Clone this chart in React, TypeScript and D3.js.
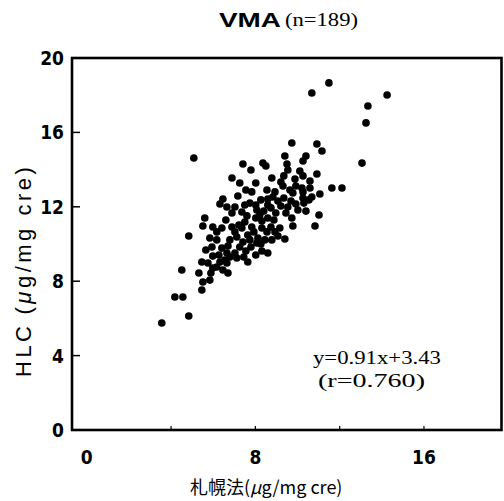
import React, { useEffect, useRef } from "react";
import * as d3 from "d3";

const width = 504;
const height = 501;

// 札幌法 (x) vs HLC (y), µg/mg cre
const sapporo = [
  11.49, 10.68, 14.25, 13.34, 13.25, 9.73, 10.92, 11.16, 9.4, 10.4, 5.08,
  10.26, 13.06, 8.36, 8.5, 7.41, 7.79, 9.5, 9.54, 10.11, 10.92, 10.26, 9.88, 6.89,
  10.59, 9.21, 9.31, 7.26, 8.02, 7.55, 7.83, 8.55, 8.93, 11.63, 12.11, 10.21, 10.26, 11.06,
  6.46, 6.32, 6.65, 7.74, 8.26, 8.59, 8.83, 9.07, 9.35, 9.69, 10.26, 10.3, 10.54, 10.68, 9.21, 9.54, 8.07, 8.4, 8.74, 10.02, 10.4,
  7.36, 5.6, 5.51, 5.98, 6.41, 6.89, 7.5, 7.83, 8.31, 8.59, 8.88, 8.74, 9.16, 9.73, 9.78, 11.02, 10.83, 8.31,
  4.84, 5.84, 6.17, 5.94, 6.41, 6.7, 7.03, 6.79, 5.98, 6.55, 7.12, 7.12, 7.41, 7.26, 7.64, 7.93, 8.55, 8.93, 9.4, 7.55, 7.79, 8.26, 8.31, 8.59,
  5.46, 5.75, 6.65, 6.17, 6.46, 5.32, 6.7, 5.89, 5.51, 5.84, 4.51, 5.46, 4.18, 4.56, 4.84, 3.56,
  // dense core
  7.6, 8.02, 7.03, 7.36, 8.12, 8.45, 7.74, 6.79, 6.65, 6.27, 7.45, 8.02, 8.78, 9.07, 8.21, 8.97, 9.45,
  9.92, 8.59, 8.02, 7.5, 7.03, 7.17, 6.89, 9.64, 9.92, 10.59, 9.78, 9.35, 8.78,
  6.6, 6.17, 5.65, 7.22, 8.07, 7.64, 6.32, 5.98,
];
const hlc = [
  18.66, 18.12, 18.01, 17.42, 16.51, 15.43, 15.38, 15.0, 14.73, 14.73, 14.62,
  14.46, 14.35, 14.35, 14.19, 14.3, 13.98, 14.3, 13.98, 13.92, 13.76, 13.66, 13.49, 13.55,
  13.39, 13.33, 13.12, 13.28, 13.28, 12.9, 12.8, 12.9, 12.8, 13.01, 13.01, 13.01, 12.8, 12.69,
  12.42, 12.15, 11.99, 12.2, 12.37, 12.42, 12.53, 12.31, 12.47, 12.31, 12.47, 12.2, 12.37, 12.53, 12.04, 11.99, 11.83, 11.77, 11.94, 11.83, 11.77,
  11.72, 11.4, 10.97, 10.91, 10.86, 10.91, 11.18, 10.91, 11.24, 11.4, 11.29, 10.91, 10.86, 11.4, 10.97, 11.56, 10.97, 10.86,
  10.43, 10.32, 10.22, 9.84, 9.78, 9.89, 9.52, 9.3, 9.35, 9.14, 9.25, 10.38, 10.11, 9.84, 10.48, 10.65, 10.65, 10.65, 10.27, 9.62, 9.84, 10.0, 9.62, 9.52,
  9.03, 8.98, 8.98, 8.76, 8.6, 8.44, 8.44, 8.44, 7.96, 8.06, 8.6, 7.53, 7.15, 7.15, 6.13, 5.75,
  11.51, 11.4, 10.65, 10.86, 10.32, 10.22, 10.22, 10.22, 9.52, 9.41, 9.3, 9.41, 10.22, 10.43, 11.56, 11.67, 11.67,
  12.15, 12.1, 12.1, 12.1, 11.99, 12.58, 11.67, 12.9, 13.12, 13.01, 12.74, 13.66, 13.55,
  11.29, 10.65, 9.68, 11.02, 10.05, 9.03, 9.03, 8.71,
];

const xTicks = [0, 8, 16];
const yTicks = [0, 4, 8, 12, 16, 20];
const xMinorTicks = [4, 8, 12, 16];

const narrow = "'Liberation Sans Narrow', 'DejaVu Sans Condensed', 'Liberation Sans', sans-serif";
const serif = "'Liberation Serif', 'DejaVu Serif', serif";
const sans = "'Liberation Sans', Arial, sans-serif";

const ScatterChart = () => {
  const ref = useRef<SVGSVGElement>(null);

  useEffect(() => {
    const svg = d3.select(ref.current);
    svg.selectAll("*").remove();

    const x = d3.scaleLinear([-0.7, 19.75], [72, 503]);
    const y = d3.scaleLinear([0, 20], [430, 58]);

    svg.append("rect").attr("width", width).attr("height", height).attr("fill", "#fff");

    // frame
    svg.append("rect")
      .attr("x", x(-0.7))
      .attr("y", y(20))
      .attr("width", x(19.75) - x(-0.7) - 1.5)
      .attr("height", y(0) - y(20))
      .attr("fill", "none")
      .attr("stroke", "#000")
      .attr("stroke-width", 2.6);

    // y ticks (inward)
    svg.append("g")
      .selectAll("line")
      .data(yTicks.slice(1, -1))
      .join("line")
      .attr("x1", x(-0.7))
      .attr("x2", x(-0.7) + 8)
      .attr("y1", d => y(d))
      .attr("y2", d => y(d))
      .attr("stroke", "#000")
      .attr("stroke-width", 1.5);

    svg.append("g")
      .selectAll("line")
      .data(xMinorTicks)
      .join("line")
      .attr("x1", d => x(d))
      .attr("x2", d => x(d))
      .attr("y1", y(0))
      .attr("y2", y(0) - 4)
      .attr("stroke", "#000")
      .attr("stroke-width", 1.2);

    svg.append("g")
      .selectAll("text")
      .data(yTicks)
      .join("text")
      .attr("x", 64)
      .attr("y", d => y(d) + 7)
      .attr("text-anchor", "end")
      .attr("font-family", narrow)
      .attr("font-weight", "bold")
      .attr("font-size", 19)
      .text(d => d);

    svg.append("g")
      .selectAll("text")
      .data(xTicks)
      .join("text")
      .attr("x", d => x(d))
      .attr("y", 464)
      .attr("text-anchor", "middle")
      .attr("font-family", narrow)
      .attr("font-weight", "bold")
      .attr("font-size", 19)
      .text(d => d);

    // points
    svg.append("g")
      .selectAll("circle")
      .data(d3.range(sapporo.length))
      .join("circle")
      .attr("cx", i => x(sapporo[i]))
      .attr("cy", i => y(hlc[i]))
      .attr("r", 3.8)
      .attr("fill", "#000");

    // title
    svg.append("text")
      .attr("x", 219)
      .attr("y", 27)
      .attr("font-family", sans)
      .attr("font-weight", "bold")
      .attr("font-size", 21)
      .attr("textLength", 62)
      .attr("lengthAdjust", "spacingAndGlyphs")
      .text("VMA");
    svg.append("text")
      .attr("x", 285)
      .attr("y", 26)
      .attr("font-family", serif)
      .attr("font-size", 19)
      .attr("textLength", 73)
      .attr("lengthAdjust", "spacingAndGlyphs")
      .text("(n=189)");

    // regression
    svg.append("text")
      .attr("x", 313)
      .attr("y", 364)
      .attr("font-family", serif)
      .attr("font-size", 18)
      .attr("textLength", 128)
      .attr("lengthAdjust", "spacingAndGlyphs")
      .text("y=0.91x+3.43");
    svg.append("text")
      .attr("x", 318)
      .attr("y", 387)
      .attr("font-family", serif)
      .attr("font-size", 18)
      .attr("textLength", 107)
      .attr("lengthAdjust", "spacingAndGlyphs")
      .text("(r=0.760)");

    // x axis title
    const xt = svg.append("text")
      .attr("x", 190)
      .attr("y", 494)
      .attr("font-family", "'Noto Sans CJK JP', 'Noto Sans', sans-serif")
      .attr("font-size", 18);
    xt.append("tspan").text("札幌法(");
    xt.append("tspan").attr("font-style", "italic").text("μ");
    xt.append("tspan").text("g/mg cre)");

    // y axis title
    const yt = svg.append("text")
      .attr("transform", "translate(31,377) rotate(-90)")
      .attr("font-family", sans)
      .attr("font-size", 22)
      .attr("letter-spacing", 3.5);
    yt.append("tspan").text("HLC");
    yt.append("tspan").attr("dx", 8).text("(");
    yt.append("tspan").attr("font-style", "italic").text("μ");
    yt.append("tspan").text("g/mg cre)");
  }, []);

  return (
    <div>
      <svg
        ref={ref}
        width={width}
        height={height}
        viewBox={`0 0 ${width} ${height}`}
        style={{ position: "absolute", left: 0, top: 0 }}
      />
    </div>
  );
};

export default function App() {
  return <ScatterChart />;
}
